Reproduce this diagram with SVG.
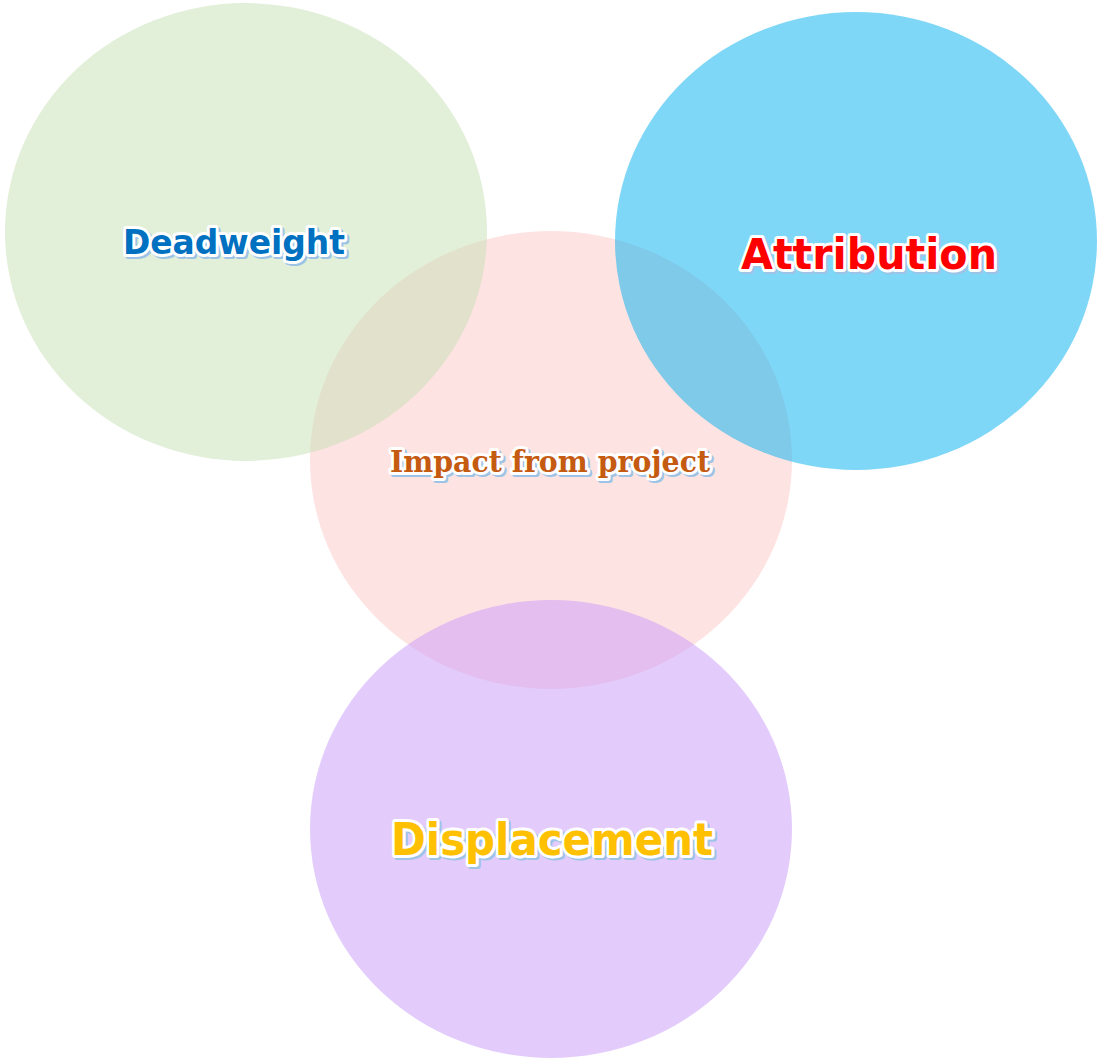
<svg xmlns="http://www.w3.org/2000/svg" width="1099" height="1059" viewBox="0 0 1099 1059">
<style>
.lbl{font-family:"DejaVu Sans","Verdana",sans-serif;font-weight:bold;text-anchor:middle}
.ser{font-family:"DejaVu Serif",serif;font-weight:bold;text-anchor:middle}
.sh{fill:#9dc3e6;stroke:#9dc3e6;stroke-width:6;stroke-linejoin:round}
.wh{stroke:#ffffff;stroke-width:6;stroke-linejoin:round;paint-order:stroke}
</style>
<rect width="1099" height="1059" fill="#ffffff"/>
<g id="impact">
<ellipse cx="551" cy="460" rx="241" ry="229" fill="#fee3e3"/>
</g>
<g id="deadweight">
<ellipse cx="246" cy="232" rx="241" ry="229" fill="#c5e0b4" fill-opacity="0.5"/>
</g>
<g id="attribution">
<ellipse cx="856" cy="241" rx="241" ry="229" fill="#00b0f0" fill-opacity="0.5"/>
</g>
<g id="displacement">
<ellipse cx="551" cy="829" rx="241" ry="229" fill="#c799f9" fill-opacity="0.5"/>
</g>
<g id="connectors"></g>
<g id="labels">
<g id="t-deadweight" class="lbl" font-size="34">
<text class="sh" x="236" y="256" textLength="222" lengthAdjust="spacingAndGlyphs">Deadweight</text>
<text class="wh" x="234" y="254" fill="#0070c0" textLength="222" lengthAdjust="spacingAndGlyphs">Deadweight</text>
</g>
<g id="t-attribution" class="lbl" font-size="43">
<text class="sh" x="871" y="271" textLength="256" lengthAdjust="spacingAndGlyphs">Attribution</text>
<text class="wh" x="869" y="269" fill="#ff0000" textLength="256" lengthAdjust="spacingAndGlyphs">Attribution</text>
</g>
<g id="t-impact" class="ser" font-size="30">
<text class="sh" x="552" y="474" textLength="320" lengthAdjust="spacingAndGlyphs">Impact from project</text>
<text class="wh" x="550" y="472" fill="#c55a11" textLength="320" lengthAdjust="spacingAndGlyphs">Impact from project</text>
</g>
<g id="t-displacement" class="lbl" font-size="45">
<text class="sh" x="554" y="857" textLength="322" lengthAdjust="spacingAndGlyphs">Displacement</text>
<text class="wh" x="552" y="855" fill="#ffc000" textLength="322" lengthAdjust="spacingAndGlyphs">Displacement</text>
</g>
</g>
</svg>
